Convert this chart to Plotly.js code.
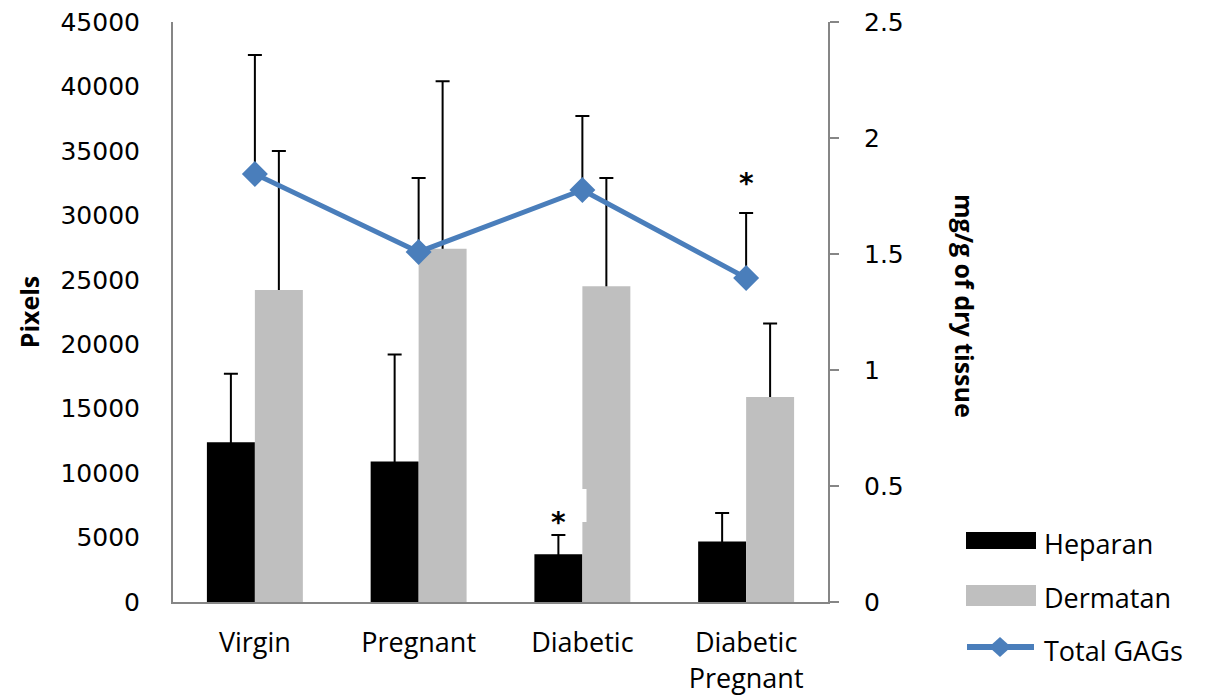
<!DOCTYPE html>
<html>
<head>
<meta charset="utf-8">
<script src="https://cdn.plot.ly/plotly-3.0.1.min.js"></script>
<style>html,body{margin:0;padding:0;background:#fff;}#chart{width:1205px;height:697px;}</style>
</head>
<body>
<div id="chart"></div>
<script>
// ---- data ----
var categories = ["Virgin", "Pregnant", "Diabetic", "Diabetic<br>Pregnant"];
var heparan = [12400, 10900, 3700, 4700];
var heparanErr = [5300, 8300, 1500, 2200];
var dermatan = [24200, 27400, 24500, 15900];
var dermatanErr = [10800, 13000, 8400, 5700];
var totalGAGs = [1.845, 1.509, 1.776, 1.397];
var totalGAGsErr = [0.513, 0.319, 0.319, 0.28];
var seriesNames = ["Heparan", "Dermatan", "Total GAGs"];
var yTicks = [0, 5000, 10000, 15000, 20000, 25000, 30000, 35000, 40000, 45000];
var y2Ticks = [0, 0.5, 1, 1.5, 2, 2.5];
var y2TickText = ["0", "0.5", "1", "1.5", "2", "2.5"];

// ---- layout geometry ----
var W = 1205, H = 697;
var M = {l: 173, r: 377, t: 22, b: 95};
var PW = W - M.l - M.r, PH = H - M.t - M.b;
function px(x) { return (x - M.l) / PW; }
function py(y) { return (H - M.b - y) / PH; }

var numFont = {family: "DejaVu Sans", size: 25, color: "#000"};
var txtFont = {family: "Open Sans", size: 27, color: "#000"};
var blue = "#4a7ebb";

// error bars only upward; the lower end is hidden inside the bar
function hiddenMinus(arr) { return arr.map(function () { return 300; }); }

var traces = [
  // error-bar carriers (transparent bars, drawn below the visible bars)
  {
    type: "bar", name: seriesNames[0] + " error", x: categories, y: heparan, offsetgroup: "h",
    marker: {color: "rgba(0,0,0,0)"},
    error_y: {type: "data", array: heparanErr, arrayminus: hiddenMinus(heparanErr), symmetric: false, color: "#000", thickness: 2, width: 7},
    showlegend: false, hoverinfo: "skip"
  },
  {
    type: "bar", name: seriesNames[1] + " error", x: categories, y: dermatan, offsetgroup: "d",
    marker: {color: "rgba(0,0,0,0)"},
    error_y: {type: "data", array: dermatanErr, arrayminus: hiddenMinus(dermatanErr), symmetric: false, color: "#000", thickness: 2, width: 7},
    showlegend: false, hoverinfo: "skip"
  },
  // visible bars
  {
    type: "bar", name: seriesNames[0], x: categories, y: heparan, offsetgroup: "h",
    marker: {color: "#000000"}, showlegend: false
  },
  {
    type: "bar", name: seriesNames[1], x: categories, y: dermatan, offsetgroup: "d",
    marker: {color: "#bfbfbf"}, showlegend: false
  },
  {
    type: "scatter", mode: "lines+markers", name: seriesNames[2], x: categories, y: totalGAGs, yaxis: "y2",
    line: {color: blue, width: 5},
    marker: {symbol: "diamond", size: 20, color: blue},
    error_y: {type: "data", array: totalGAGsErr, arrayminus: totalGAGsErr.map(function(){return 0;}), symmetric: false, color: "#000", thickness: 2, width: 7},
    showlegend: false
  }
];

var shapes = [
  // white artifact patch on Diabetic Dermatan bar
  {type: "rect", xref: "paper", yref: "paper", x0: px(582), x1: px(586.5), y0: py(522), y1: py(489), fillcolor: "#fff", line: {width: 0}, layer: "above"},
  // manual legend symbols
  {type: "rect", xref: "paper", yref: "paper", x0: px(966), x1: px(1036), y0: py(549), y1: py(532), fillcolor: "#000", line: {width: 0}},
  {type: "rect", xref: "paper", yref: "paper", x0: px(966), x1: px(1036), y0: py(606), y1: py(585), fillcolor: "#bfbfbf", line: {width: 0}},
  {type: "line", xref: "paper", yref: "paper", x0: px(967), x1: px(1034), y0: py(647), y1: py(647), line: {color: blue, width: 6}},
  {type: "path", xref: "paper", yref: "paper",
   path: "M " + px(1000) + " " + py(637) + " L " + px(1011) + " " + py(647) + " L " + px(1000) + " " + py(657) + " L " + px(989) + " " + py(647) + " Z",
   fillcolor: blue, line: {width: 0}}
];

var annotations = [
  {xref: "paper", yref: "paper", x: px(1042), y: py(543), xanchor: "left", yanchor: "middle", text: seriesNames[0], showarrow: false, font: txtFont},
  {xref: "paper", yref: "paper", x: px(1042), y: py(597), xanchor: "left", yanchor: "middle", text: seriesNames[1], showarrow: false, font: txtFont},
  {xref: "paper", yref: "paper", x: px(1042), y: py(650), xanchor: "left", yanchor: "middle", text: seriesNames[2], showarrow: false, font: txtFont},
  // right axis title
  {xref: "paper", yref: "paper", x: px(965), y: py(306), xanchor: "center", yanchor: "middle", textangle: 90,
   text: "<b>mg/g of dry tissue</b>", showarrow: false, font: {family: "Open Sans", size: 25, color: "#000"}},
  // significance asterisks
  {xref: "x", yref: "y", x: categories[2], y: heparan[2] + heparanErr[2], xshift: -24, yshift: 12, text: "<b>*</b>", showarrow: false, font: {family: "DejaVu Sans", size: 28, color: "#000"}},
  {xref: "x", yref: "y2", x: categories[3], y: totalGAGs[3] + totalGAGsErr[3], yshift: 29, text: "<b>*</b>", showarrow: false, font: {family: "DejaVu Sans", size: 28, color: "#000"}}
];

var layout = {
  width: W, height: H,
  margin: M,
  paper_bgcolor: "#fff", plot_bgcolor: "#fff",
  barmode: "group", bargap: 0.414, bargroupgap: 0,
  showlegend: false,
  xaxis: {
    type: "category", showgrid: false, zeroline: false,
    showline: true, linecolor: "#868686", linewidth: 2,
    ticks: "", tickfont: txtFont,
    ticklabelstandoff: 16
  },
  yaxis: {
    range: [0, 45000], tickvals: yTicks, ticktext: yTicks.map(String),
    showgrid: false, zeroline: false,
    showline: true, linecolor: "#868686", linewidth: 2,
    ticks: "", tickfont: numFont, ticklabelstandoff: 26,
    title: {text: "<b>Pixels</b>", font: {family: "Open Sans", size: 25, color: "#000"}, standoff: 14}
  },
  yaxis2: {
    overlaying: "y", side: "right", range: [0, 2.5],
    tickvals: y2Ticks, ticktext: y2TickText,
    showgrid: false, zeroline: false,
    showline: true, linecolor: "#868686", linewidth: 2,
    ticks: "outside", ticklen: 9, tickwidth: 2, tickcolor: "#868686",
    tickfont: numFont, ticklabelstandoff: 20
  },
  shapes: shapes,
  annotations: annotations
};

Plotly.newPlot("chart", traces, layout, {displayModeBar: false, staticPlot: true});
</script>
</body>
</html>
